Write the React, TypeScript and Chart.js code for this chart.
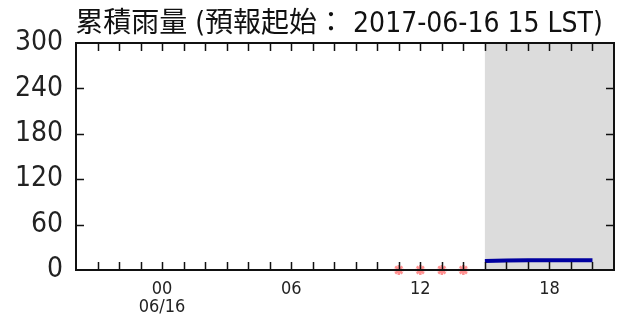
import React, { useEffect, useRef } from "react";
import { Chart, registerables } from "chart.js";
Chart.register(...registerables);

const titleText = "累積雨量 (預報起始： 2017-06-16 15 LST)";
const xMin = -4;
const xMax = 21;
const forecastStart = 15;
const yTicks = [0, 60, 120, 180, 240, 300];
const xLabelHours = [0, 6, 12, 18];
const xLabels = [["00", "06/16"], ["06"], ["12"], ["18"]];
const obsHours = [11, 12, 13, 14];
const obsValues = [0, 0, 0, 0];
const fcstHours = [15, 16, 17, 18, 19, 20];
const fcstValues = [12, 12.5, 13, 13, 13, 13];

const COND = "'DejaVu Sans Condensed', 'DejaVu Sans', 'Noto Sans CJK TC', sans-serif";

const framePlugin = {
  id: "frame",
  beforeDatasetsDraw(chart: any) {
    const { ctx, chartArea: a, scales } = chart;
    const x = scales.x;
    ctx.save();
    const x0 = x.getPixelForValue(forecastStart);
    const x1 = x.getPixelForValue(xMax);
    ctx.fillStyle = "#dcdcdc";
    ctx.fillRect(x0, a.top, x1 - x0, a.bottom - a.top);
    ctx.restore();
  },
  afterDatasetsDraw(chart: any) {
    const { ctx, chartArea: a, scales } = chart;
    const x = scales.x;
    const y = scales.y;
    ctx.save();
    ctx.strokeStyle = "#111";
    ctx.lineWidth = 1.5;
    const tl = 8;
    ctx.beginPath();
    for (let h = xMin + 1; h < xMax; h++) {
      const px = Math.round(x.getPixelForValue(h)) + 0.5;
      ctx.moveTo(px, a.bottom);
      ctx.lineTo(px, a.bottom - tl);
      ctx.moveTo(px, a.top);
      ctx.lineTo(px, a.top + tl);
    }
    for (const v of yTicks) {
      if (v === yTicks[0] || v === yTicks[yTicks.length - 1]) continue;
      const py = Math.round(y.getPixelForValue(v)) + 0.5;
      ctx.moveTo(a.left, py);
      ctx.lineTo(a.left + tl, py);
      ctx.moveTo(a.right, py);
      ctx.lineTo(a.right - tl, py);
    }
    ctx.stroke();
    ctx.lineWidth = 2;
    ctx.strokeRect(a.left, a.top, a.right - a.left, a.bottom - a.top);
    // title
    ctx.fillStyle = "#111";
    ctx.font = "28px " + COND;
    ctx.textAlign = "center";
    ctx.textBaseline = "alphabetic";
    ctx.fillText(titleText, 339, 32);
    ctx.restore();
  },
};

export default function App() {
  const ref = useRef<HTMLCanvasElement>(null);
  useEffect(() => {
    const chart = new Chart(ref.current!, {
      type: "scatter",
      data: {
        datasets: [
          {
            type: "line",
            data: fcstHours.map((h, i) => ({ x: h, y: fcstValues[i] })),
            borderColor: "#0000a0",
            borderWidth: 4,
            pointRadius: 0,
            showLine: true,
            clip: false,
          } as any,
          {
            data: obsHours.map((h, i) => ({ x: h, y: obsValues[i] })),
            pointStyle: "star",
            pointRadius: 5,
            borderColor: "rgba(255,70,70,0.6)",
            backgroundColor: "rgba(255,70,70,0.6)",
            borderWidth: 2.5,
            clip: false,
          } as any,
        ],
      },
      options: {
        animation: false,
        responsive: false,
        layout: { padding: { top: 43, right: 11, left: 0, bottom: 0 } },
        plugins: { legend: { display: false }, tooltip: { enabled: false }, title: { display: false } },
        scales: {
          x: {
            type: "linear",
            min: xMin,
            max: xMax,
            grid: { display: false },
            border: { display: false },
            afterFit: (s: any) => { s.height = 47; },
            afterBuildTicks: (s: any) => { s.ticks = xLabelHours.map((v) => ({ value: v })); },
            ticks: {
              padding: 2,
              color: "#222",
              font: { family: COND, size: 18, lineHeight: 1.0 },
              maxRotation: 0,
              autoSkip: false,
              callback: (v: any) => {
                const i = xLabelHours.indexOf(Number(v));
                return i >= 0 ? xLabels[i] : "";
              },
            },
          },
          y: {
            min: 0,
            max: 300,
            grid: { display: false },
            border: { display: false },
            afterFit: (s: any) => { s.width = 76; },
            afterBuildTicks: (s: any) => { s.ticks = yTicks.map((v) => ({ value: v })); },
            ticks: {
              padding: 5,
              color: "#222",
              font: { family: COND, size: 28 },
            },
          },
        },
      },
      plugins: [framePlugin],
    } as any);
    return () => chart.destroy();
  }, []);
  return (
    <div style={{ position: "fixed", left: 0, top: 0, width: 625, height: 317, background: "#fff" }}>
      <canvas ref={ref} width={625} height={317} style={{ width: 625, height: 317 }} />
    </div>
  );
}
